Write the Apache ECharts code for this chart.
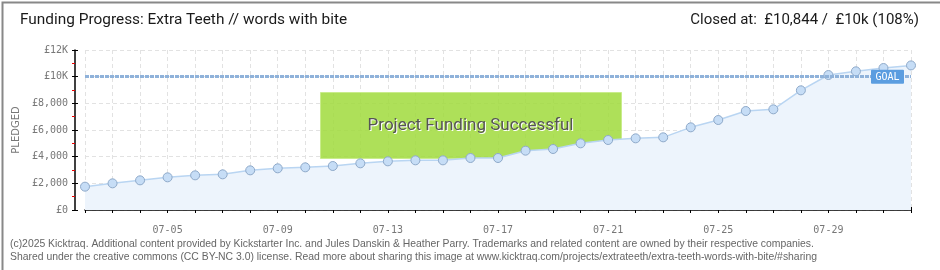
<!DOCTYPE html>
<html><head><meta charset="utf-8">
<script src="https://cdn.jsdelivr.net/npm/echarts@6/dist/echarts.min.js"></script>
<style>html,body{margin:0;padding:0;background:#fff}#c{width:940px;height:270px}</style>
</head><body><div id="c"></div>
<script>
const categories = ['07-02','07-03','07-04','07-05','07-06','07-07','07-08','07-09','07-10','07-11','07-12','07-13','07-14','07-15','07-16','07-17','07-18','07-19','07-20','07-21','07-22','07-23','07-24','07-25','07-26','07-27','07-28','07-29','07-30','07-31','08-01'];
const pledged = [1750,2000,2225,2450,2600,2675,2975,3125,3200,3300,3500,3650,3725,3725,3900,3900,4450,4575,5000,5250,5375,5450,6200,6750,7425,7550,8975,10125,10400,10650,10844];
const goal = 10000;
const yTicks = [0,2000,4000,6000,8000,10000,12000];
const titleText = 'Funding Progress: Extra Teeth // words with bite';
const closedText = 'Closed at:  £10,844 /  £10k (108%)';
const footer1 = '(c)2025 Kicktraq. Additional content provided by Kickstarter Inc. and Jules Danskin & Heather Parry. Trademarks and related content are owned by their respective companies.';
const footer2 = 'Shared under the creative commons (CC BY-NC 3.0) license. Read more about sharing this image at www.kicktraq.com/projects/extrateeth/extra-teeth-words-with-bite/#sharing';

const chart = echarts.init(document.getElementById('c'), null, {renderer:'canvas'});
const fmtY = v => v >= 10000 ? '£' + (v/1000) + 'K' : '£' + v.toLocaleString('en-US');
const grid = {left:85, right:29, top:50, bottom:60};
const xBase = {type:'category', data:categories, boundaryGap:false, offset:10, position:'bottom'};
const yBase = {type:'value', min:yTicks[0], max:yTicks[yTicks.length-1], interval:2000, offset:10, position:'left'};
chart.setOption({
  animation:false,
  grid: grid,
  xAxis: [
    Object.assign({}, xBase, {
      axisLine:{lineStyle:{color:'#000', width:1.5}},
      axisTick:{interval:0, length:3, lineStyle:{color:'#000'}},
      axisLabel:{interval:(i)=> i%4===3, color:'#777', fontFamily:'DejaVu Sans Mono', fontSize:10, margin:5},
      splitLine:{show:true, interval:0, lineStyle:{color:'#e2e2e2', type:[4,3]}}
    }),
    Object.assign({}, xBase, {
      axisLine:{show:false},
      axisTick:{interval:0, inside:true, length:3, lineStyle:{color:'#000'}},
      axisLabel:{show:false}, splitLine:{show:false}
    })
  ],
  yAxis: [
    Object.assign({}, yBase, {
      axisLine:{show:true, lineStyle:{color:'#000', width:1.5}},
      axisTick:{show:true, length:3, lineStyle:{color:'#000'}},
      minorTick:{show:true, splitNumber:2, length:3, lineStyle:{color:'#e00'}},
      axisLabel:{formatter:fmtY, color:'#777', fontFamily:'DejaVu Sans Mono', fontSize:10, margin:7},
      splitLine:{show:true, lineStyle:{color:'#e2e2e2', type:[4,3]}},
      name:'PLEDGED', nameLocation:'middle', nameGap:43, nameRotate:90,
      nameTextStyle:{color:'#777', fontFamily:'DejaVu Sans', fontSize:10}
    }),
    Object.assign({}, yBase, {
      axisLine:{show:false},
      axisTick:{show:true, inside:true, length:3, lineStyle:{color:'#000'}},
      axisLabel:{show:false}, splitLine:{show:false}
    })
  ],
  series: [{
    type:'line', data:pledged, xAxisIndex:0, yAxisIndex:0,
    symbol:'circle', symbolSize:9,
    itemStyle:{color:'#c6ddf6', borderColor:'#8ea9c9', borderWidth:1},
    lineStyle:{color:'#b9d5f2', width:1.5},
    areaStyle:{color:'#edf4fc', opacity:1},
    markLine:{
      silent:true, symbol:'none',
      lineStyle:{color:'#8fb2da', width:3, type:[4,1]},
      label:{show:false},
      data:[{yAxis:goal}]
    },
    z:2
  }]
});
let gp = chart.convertToPixel({seriesIndex:0}, [categories.length-1, goal]);
if (!gp || isNaN(gp[0])) gp = [911, 76.7];
chart.setOption({graphic: [
  {type:'rect', left:0, top:0, shape:{width:939, height:269}, style:{fill:'none', stroke:'#888', lineWidth:2}, silent:true},
  {type:'text', left:20, top:13, style:{text:titleText, fill:'#1a1a1a', font:'15.4px Roboto'}},
  {type:'text', right:21, top:13, style:{text:closedText, fill:'#1a1a1a', font:'15px Roboto'}},
  {type:'text', left:10, top:239, style:{text:footer1, fill:'#666', font:'10.4px "Liberation Sans"'}},
  {type:'text', left:10, top:252, style:{text:footer2, fill:'#666', font:'10.4px "Liberation Sans"'}},
  {type:'group', left:320, top:92, z:10, children:[
    {type:'rect', shape:{x:0, y:0, width:301, height:66}, style:{fill:'rgba(160,218,60,0.85)', stroke:'#c9ec8c', lineWidth:1}},
    {type:'text', x:151, y:34, style:{text:'Project Funding Successful', fill:'#fff', font:'17px Roboto', align:'center', verticalAlign:'middle'}},
    {type:'text', x:150, y:33, style:{text:'Project Funding Successful', fill:'#555', font:'17px Roboto', align:'center', verticalAlign:'middle'}}
  ]},
  {type:'group', x:gp[0]-40, y:gp[1]-7, z:100, children:[
    {type:'rect', z:100, shape:{x:0, y:0, width:33, height:14, r:1}, style:{fill:'#5b9de0'}},
    {type:'text', z:101, x:16.5, y:7.5, style:{text:'GOAL', fill:'#fff', font:'10px "DejaVu Sans Mono"', align:'center', verticalAlign:'middle'}}
  ]}
]});
</script></body></html>
